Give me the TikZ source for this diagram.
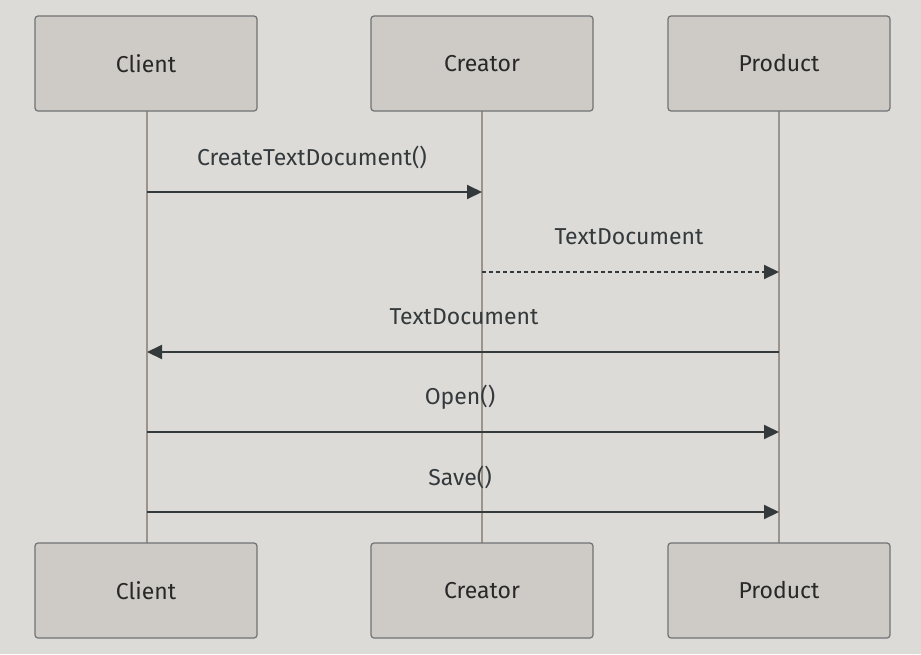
\documentclass[tikz,border=0pt]{standalone}
\usepackage{fontspec}
\setmainfont{Fira Sans}
\usetikzlibrary{arrows.meta}
\definecolor{bg}{RGB}{220,219,215}
\definecolor{boxfill}{RGB}{206,203,198}
\definecolor{boxdraw}{RGB}{112,114,116}
\definecolor{life}{RGB}{155,148,140}
\definecolor{msg}{RGB}{52,57,60}
\definecolor{txt}{RGB}{40,40,40}
\tikzset{
  actor/.style={draw=boxdraw, fill=boxfill, line width=1.2pt, rounded corners=3pt,
    minimum width=222pt, minimum height=95pt, inner sep=0pt,
    font=\fontsize{23}{27}\selectfont, text=txt},
  lifeline/.style={draw=life, line width=2pt},
  message/.style={draw=msg, line width=2pt, -{Triangle[length=15pt,width=14pt]}},
  reply/.style={message, dash pattern=on 4pt off 3pt},
  msglabel/.style={font=\fontsize{23}{27}\selectfont, text=msg, inner sep=0pt},
}
\begin{document}
\begin{tikzpicture}[x=1pt,y=-1pt]
\fill[bg] (0,0) rectangle (921,654);
\useasboundingbox (0,0) rectangle (921,654);
% lifelines
\coordinate (lc1) at (147,111); \coordinate (lc2) at (147,543);
\coordinate (lr1) at (482,111); \coordinate (lr2) at (482,543);
\coordinate (lp1) at (779,111); \coordinate (lp2) at (779,543);
\draw[lifeline] (lc1) -- (lc2);
\draw[lifeline] (lr1) -- (lr2);
\draw[lifeline] (lp1) -- (lp2);
% actors
\node[actor] (ct) at (146,63.5) {Client};
\node[actor] (rt) at (482,63.5) {Creator};
\node[actor] (pt) at (779,63.5) {Product};
\node[actor] (cb) at (146,590.5) {Client};
\node[actor] (rb) at (482,590.5) {Creator};
\node[actor] (pb) at (779,590.5) {Product};
% message anchors
\coordinate (c1) at (147,192); \coordinate (r1) at (482,192);
\coordinate (r2) at (482,272); \coordinate (p2) at (779,272);
\coordinate (p3) at (779,352); \coordinate (c3) at (147,352);
\coordinate (c4) at (147,432); \coordinate (p4) at (779,432);
\coordinate (c5) at (147,512); \coordinate (p5) at (779,512);
\draw[message] (c1) -- (r1);
\draw[reply] (r2) -- (p2);
\draw[message] (p3) -- (c3);
\draw[message] (c4) -- (p4);
\draw[message] (c5) -- (p5);
% labels
\node[msglabel] (m1) at (312,157) {CreateTextDocument()};
\node[msglabel] (m2) at (629,237) {TextDocument};
\node[msglabel] (m3) at (464,317) {TextDocument};
\node[msglabel] (m4) at (460,397) {Open()};
\node[msglabel] (m5) at (460,477) {Save()};
\end{tikzpicture}
\end{document}
